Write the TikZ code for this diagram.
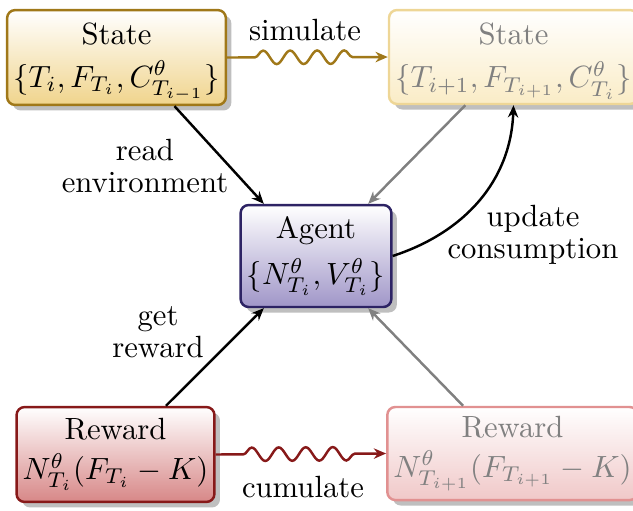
\documentclass[tikz,border=0pt]{standalone}
\usetikzlibrary{arrows.meta,shadows,decorations.pathmorphing}

\definecolor{goldD}{RGB}{160,120,25}
\definecolor{goldL}{RGB}{240,212,140}
\definecolor{goldFD}{RGB}{238,214,150}
\definecolor{goldFL}{RGB}{250,236,198}
\definecolor{purD}{RGB}{45,35,100}
\definecolor{purL}{RGB}{160,150,200}
\definecolor{redD}{RGB}{135,25,25}
\definecolor{redL}{RGB}{215,135,135}
\definecolor{redFD}{RGB}{225,145,145}
\definecolor{redFL}{RGB}{240,200,200}
\definecolor{fadetext}{RGB}{128,128,128}

\tikzset{
  box/.style={rectangle, rounded corners=2.6pt, line width=0.8pt, align=center,
    inner xsep=2pt, inner ysep=0.5pt, top color=white,
    drop shadow={shadow xshift=1.8pt, shadow yshift=-1.8pt, fill=black!25, opacity=1}},
  statebox/.style={box, draw=goldD, bottom color=goldL},
  statefade/.style={box, draw=goldFD, bottom color=goldFL, text=fadetext},
  agentbox/.style={box, draw=purD, bottom color=purL},
  rewardbox/.style={box, draw=redD, bottom color=redL},
  rewardfade/.style={box, draw=redFD, bottom color=redFL, text=fadetext},
  conn/.style={line width=0.8pt, -{Stealth[length=4pt,width=3.4pt]}},
  fadeconn/.style={conn, draw=black!50},
  wavy/.style={conn, decorate,
    decoration={snake, amplitude=2.2pt, segment length=8.8pt, pre length=9pt, post length=8pt}},
  lbl/.style={align=center, inner sep=0pt}
}
% extra head room above the first line of a box
\newcommand{\headroom}{\rule{0pt}{9.8pt}}

\begin{document}
\begin{tikzpicture}[x=0.3257pt, y=-0.3257pt]
  \useasboundingbox (0,0) rectangle (633,510);

  % state, agent and reward boxes
  \node[statebox, minimum width=68.1pt, minimum height=30.9pt] (SL) at (116.5,57.5)
    {\headroom State\\[2pt]$\{T_i, F_{T_i}, C^{\theta}_{T_{i-1}}\}$};
  \node[statefade, minimum width=77.2pt, minimum height=30.6pt] (SR) at (513.5,57)
    {\headroom State\\[2pt]$\{T_{i+1}, F_{T_{i+1}}, C^{\theta}_{T_i}\}$};
  \node[agentbox, minimum width=48.2pt, minimum height=33.2pt] (AG) at (316,256)
    {Agent\\[3pt]$\{N^{\theta}_{T_i}, V^{\theta}_{T_i}\}$};
  \node[rewardbox, minimum width=63.5pt, minimum height=30.9pt] (RL) at (115.5,454.5)
    {Reward\\[1pt]$N^{\theta}_{T_i}(F_{T_i}-K)$};
  \node[rewardfade, minimum width=78.5pt, minimum height=30.3pt] (RR) at (512.5,453.5)
    {Reward\\[1pt]$N^{\theta}_{T_{i+1}}(F_{T_{i+1}}-K)$};

  % connectors
  \draw[wavy, draw=goldD] (SL.east) -- (SR.west);
  \draw[wavy, draw=redD] (RL.east) -- (RR.west);
  \draw[conn] (SL.-40) -- (AG.135);
  \draw[fadeconn] (SR.-135) -- (AG.45);
  \draw[conn] (AG.east) to[out=18, in=-92] (SR.south);
  \draw[conn] (RL.44) -- (AG.-135);
  \draw[fadeconn] (RR.136) -- (AG.-45);

  % connector labels
  \node[lbl] (lsim) at (305,30) {simulate};
  \node[lbl] (lread) at (145,166) {read\\[-1.5pt]environment};
  \node[lbl] (lupd) at (533,235) {update\\[-1.5pt]consumption};
  \node[lbl] (lget) at (158,332) {get\\[-1.5pt]reward};
  \node[lbl] (lcum) at (303,487) {cumulate};
\end{tikzpicture}
\end{document}
